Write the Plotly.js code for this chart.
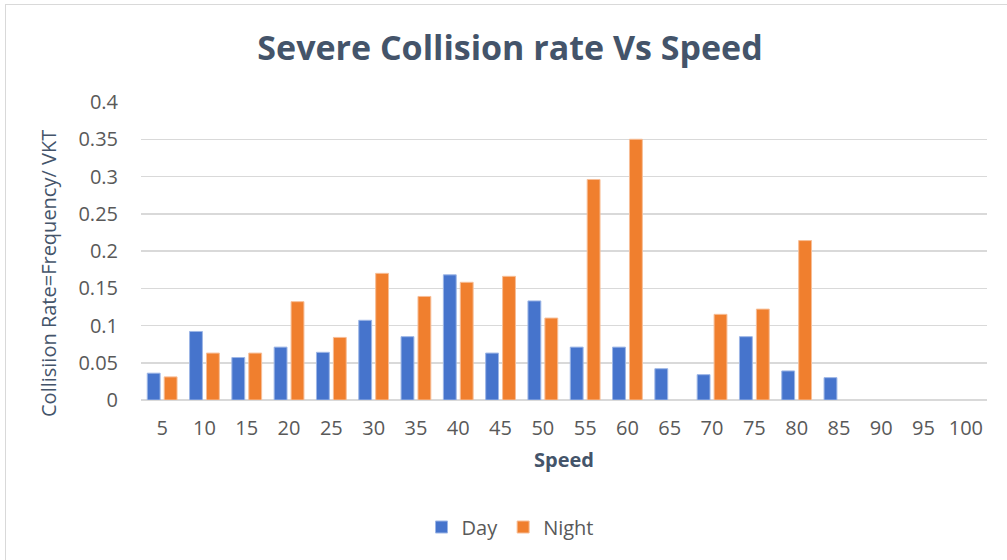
<!DOCTYPE html>
<html>
<head>
<meta charset="utf-8">
<script src="https://cdn.plot.ly/plotly-3.0.1.min.js"></script>
<style>
  html, body { margin: 0; padding: 0; background: #fff; }
  #wrap { position: relative; width: 1007px; height: 560px; }
  #frame { position: absolute; left: 5px; top: 4px; right: 0; bottom: 0; border-left: 1.5px solid #D9D9D9; border-top: 1.5px solid #D9D9D9; pointer-events: none; }
  #chart { width: 1007px; height: 560px; }
</style>
</head>
<body>
<div id="wrap">
  <div id="chart"></div>
  <div id="frame"></div>
</div>
<script>
const speeds = ["5","10","15","20","25","30","35","40","45","50","55","60","65","70","75","80","85","90","95","100"];
const dayRate = [0.036,0.092,0.057,0.071,0.064,0.107,0.085,0.168,0.063,0.133,0.071,0.071,0.042,0.034,0.085,0.039,0.030,null,null,null];
const nightRate = [0.031,0.063,0.063,0.132,0.084,0.170,0.139,0.158,0.166,0.110,0.296,0.350,null,0.115,0.122,0.214,null,null,null,null];
const yTicks = [0,0.05,0.1,0.15,0.2,0.25,0.3,0.35,0.4];
const yTickText = ["0","0.05","0.1","0.15","0.2","0.25","0.3","0.35","0.4"];

const font = "Open Sans, Noto Sans, Arial, sans-serif";
const tickColor = "#595959";
const titleColor = "#44546A";

const traces = [
  { type: "bar", name: "Day", x: speeds, y: dayRate,
    marker: { color: "#4674CC", line: { color: "#9DB6E6", width: 1 } } },
  { type: "bar", name: "Night", x: speeds, y: nightRate,
    marker: { color: "#F07F2E", line: { color: "#F7BE97", width: 1 } } }
];

const layout = {
  width: 1007, height: 560,
  paper_bgcolor: "#fff", plot_bgcolor: "#fff",
  margin: { l: 141, r: 20, t: 102, b: 160 },
  barmode: "group", bargap: 0.2, bargroupgap: 0.24,
  font: { family: font, color: tickColor, size: 20 },
  title: { text: "<b>Severe Collision rate Vs Speed</b>", font: { family: font, size: 34, color: titleColor },
           x: 510/1007, xref: "container", xanchor: "center", y: 1 - 48/560, yref: "container", yanchor: "middle" },
  xaxis: {
    type: "category", tickfont: { size: 20, color: tickColor },
    showgrid: false, showline: false, ticks: "", ticklabelstandoff: 14,
    title: { text: "<b>Speed</b>", font: { size: 20, color: titleColor }, standoff: 12 }
  },
  yaxis: {
    range: [0, 0.4], tickvals: yTicks, ticktext: yTickText,
    tickfont: { size: 20, color: tickColor },
    showgrid: true, gridcolor: "#D9D9D9", gridwidth: 1.5,
    zeroline: true, zerolinecolor: "#D9D9D9", zerolinewidth: 1.5,
    showline: false, ticks: "", ticklabelstandoff: 22
  },
  annotations: [
    { text: "Collisiion Rate=Frequency/ VKT", xref: "paper", yref: "paper",
      x: (48 - 141) / (1007 - 141 - 20), y: (560 - 160 - 274) / (560 - 102 - 160),
      xanchor: "center", yanchor: "middle", textangle: -90, showarrow: false,
      font: { size: 20, color: titleColor } }
  ],
  showlegend: true,
  legend: { orientation: "h", x: 510/1007, xanchor: "center", xref: "container",
            y: 1 - 527/560, yref: "container", yanchor: "middle",
            font: { size: 20, color: tickColor }, itemwidth: 30, traceorder: "normal" }
};

Plotly.newPlot("chart", traces, layout, { displayModeBar: false, staticPlot: true });
</script>
</body>
</html>
